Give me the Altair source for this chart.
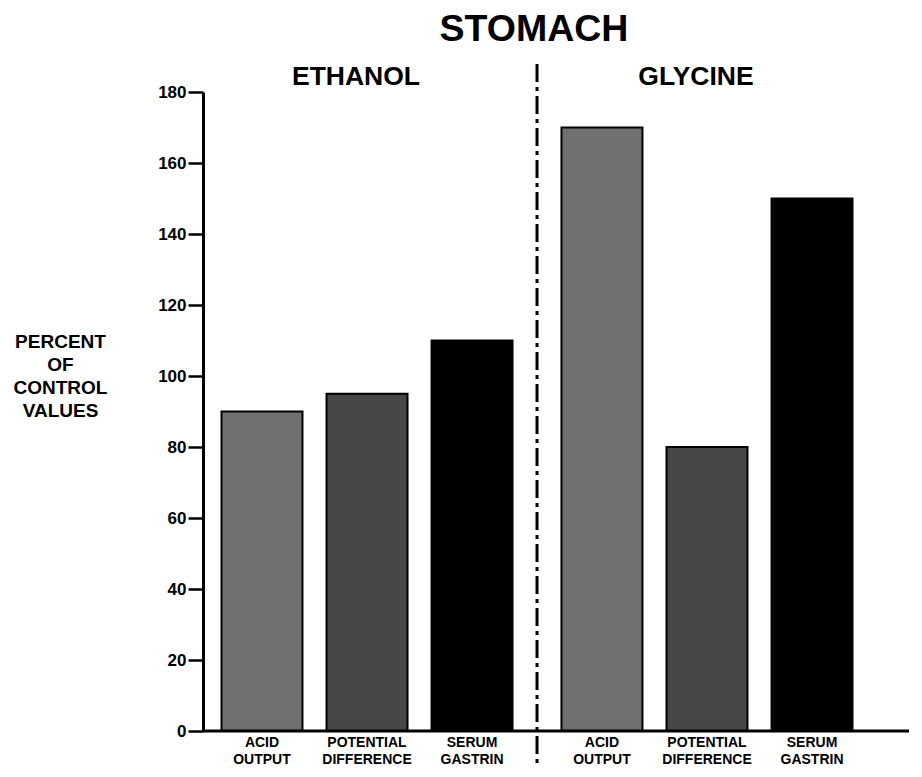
import altair as alt
import pandas as pd

# ---- data ----
groups = ["ETHANOL", "ETHANOL", "ETHANOL", "GLYCINE", "GLYCINE", "GLYCINE"]
measures = ["ACID OUTPUT", "POTENTIAL DIFFERENCE", "SERUM GASTRIN",
            "ACID OUTPUT", "POTENTIAL DIFFERENCE", "SERUM GASTRIN"]
labels = ["ACID\nOUTPUT", "POTENTIAL\nDIFFERENCE", "SERUM\nGASTRIN",
          "ACID\nOUTPUT", "POTENTIAL\nDIFFERENCE", "SERUM\nGASTRIN"]
values = [90, 95, 110, 170, 80, 150]
y_ticks = [0, 20, 40, 60, 80, 100, 120, 140, 160, 180]

group_order = ["ETHANOL", "GLYCINE"]
measure_order = ["ACID OUTPUT", "POTENTIAL DIFFERENCE", "SERUM GASTRIN"]
fills = ["#707070", "#474747", "#000000"]

df = pd.DataFrame({"group": groups, "measure": measures,
                   "label": labels, "value": values})

FONT = "Liberation Sans"
W, H = 706, 639

x_enc = alt.X(
    "group:N",
    scale=alt.Scale(domain=group_order, paddingInner=0.144,
                    paddingOuter=0.1103, align=0.2467),
    axis=alt.Axis(orient="top", title=None, domain=False, ticks=False,
                  labelAngle=0, labelFont=FONT, labelFontSize=26.5,
                  labelFontWeight="bold", labelColor="black",
                  labelPadding=2, labelOffset=-11),
)
xoff_enc = alt.XOffset(
    "measure:N",
    scale=alt.Scale(domain=measure_order, paddingInner=0.229, paddingOuter=0),
)
y_enc = alt.Y(
    "value:Q",
    scale=alt.Scale(domain=[0, 180], nice=False, zero=True),
    axis=alt.Axis(
        values=y_ticks, grid=False, domainColor="black", domainWidth=3,
        tickColor="black", tickSize=15, tickWidth=2.5,
        labelFont=FONT, labelFontSize=17, labelFontWeight="bold",
        labelColor="black", labelPadding=2,
        title=["PERCENT", "OF", "CONTROL", "VALUES"],
        titleAngle=0, titleAlign="center", titleBaseline="top",
        titleX=-143, titleY=240, titleFont=FONT, titleFontSize=19,
        titleFontWeight="bold", titleColor="black", titleLineHeight=23,
    ),
)

base = alt.Chart(df)

bars = base.mark_bar(stroke="black", strokeWidth=2).encode(
    x=x_enc,
    xOffset=xoff_enc,
    y=y_enc,
    color=alt.Color("measure:N",
                    scale=alt.Scale(domain=measure_order, range=fills),
                    legend=None),
)

bottom_labels = base.mark_text(
    lineBreak="\n", font=FONT, fontSize=14, fontWeight="bold",
    baseline="top", lineHeight=17, color="black",
).encode(
    x=alt.X("group:N"),
    xOffset=alt.XOffset("measure:N"),
    y=alt.value(H + 5),
    text="label:N",
)

baseline = alt.Chart(pd.DataFrame({"v": [0]})).mark_rule(
    color="black", strokeWidth=3
).encode(
    y=alt.Y("v:Q"),
    x=alt.value(0),
    x2=alt.value(W),
)

divider = alt.Chart(pd.DataFrame({"group": ["ETHANOL"]})).mark_rule(
    color="black", strokeWidth=3, strokeDash=[18, 5, 4, 5], xOffset=24.5
).encode(
    x=alt.X("group:N", bandPosition=1),
    y=alt.value(-28),
    y2=alt.value(H + 32),
)

chart = alt.layer(bars, bottom_labels, baseline, divider).properties(
    width=W, height=H,
    padding={"left": 5, "top": 3, "right": 0, "bottom": 0},
    background="white",
    title=alt.TitleParams("STOMACH", font=FONT, fontSize=37.5,
                          fontWeight="bold", color="black",
                          anchor="middle", frame="group", dx=-22, offset=14),
).configure_view(stroke=None)

chart.save("out.html", embed_options={"renderer": "svg", "actions": False})
